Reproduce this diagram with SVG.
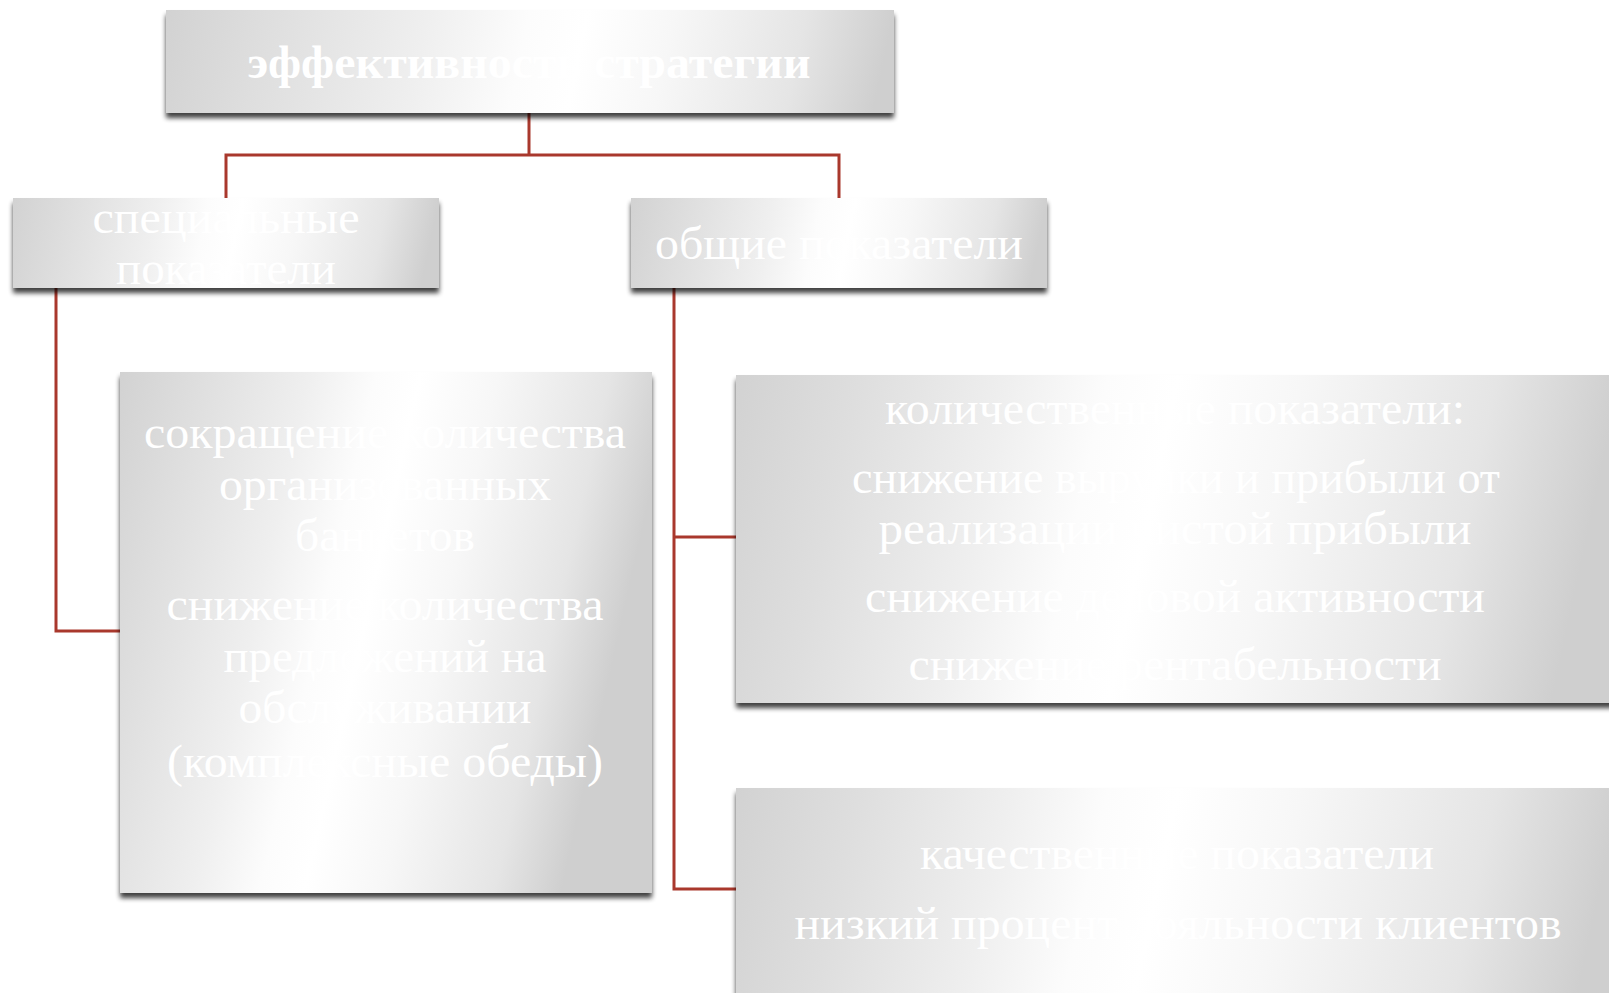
<svg xmlns="http://www.w3.org/2000/svg" width="1609" height="993" viewBox="0 0 1609 993">
  <defs>
    <filter id="sh" x="-5%" y="-10%" width="110%" height="130%">
      <feGaussianBlur in="SourceAlpha" stdDeviation="2.5"/>
      <feOffset dx="0" dy="5" result="b"/>
      <feComponentTransfer><feFuncA type="linear" slope="0.75"/></feComponentTransfer>
      <feMerge><feMergeNode/><feMergeNode in="SourceGraphic"/></feMerge>
    </filter>
    <linearGradient id="gTop" x1="0" y1="0" x2="1" y2="0.03">
      <stop offset="0" stop-color="#d2d2d2"/><stop offset="0.14" stop-color="#dedede"/><stop offset="0.36" stop-color="#efefef"/><stop offset="0.5" stop-color="#fcfcfc"/><stop offset="0.58" stop-color="#ffffff"/><stop offset="0.7" stop-color="#f7f7f7"/><stop offset="0.88" stop-color="#e5e5e5"/><stop offset="1" stop-color="#cfcfcf"/>
    </linearGradient>
    <linearGradient id="gMid" x1="0" y1="0" x2="1" y2="0.045">
      <stop offset="0" stop-color="#d2d2d2"/><stop offset="0.14" stop-color="#dedede"/><stop offset="0.34" stop-color="#efefef"/><stop offset="0.46" stop-color="#fcfcfc"/><stop offset="0.54" stop-color="#ffffff"/><stop offset="0.68" stop-color="#f7f7f7"/><stop offset="0.88" stop-color="#e5e5e5"/><stop offset="1" stop-color="#cfcfcf"/>
    </linearGradient>
    <linearGradient id="gTall" x1="0" y1="0" x2="1" y2="0.22">
      <stop offset="0" stop-color="#d2d2d2"/><stop offset="0.14" stop-color="#dedede"/><stop offset="0.34" stop-color="#efefef"/><stop offset="0.46" stop-color="#fcfcfc"/><stop offset="0.54" stop-color="#ffffff"/><stop offset="0.68" stop-color="#f7f7f7"/><stop offset="0.88" stop-color="#e5e5e5"/><stop offset="1" stop-color="#cfcfcf"/>
    </linearGradient>
    <linearGradient id="gWide" x1="0" y1="0" x2="1" y2="0.08">
      <stop offset="0" stop-color="#d2d2d2"/><stop offset="0.14" stop-color="#dedede"/><stop offset="0.31" stop-color="#efefef"/><stop offset="0.42" stop-color="#fcfcfc"/><stop offset="0.5" stop-color="#ffffff"/><stop offset="0.64" stop-color="#f7f7f7"/><stop offset="0.86" stop-color="#e5e5e5"/><stop offset="1" stop-color="#cfcfcf"/>
    </linearGradient>
  </defs>
  <style>
    .box { filter: url(#sh); }
    .t { font-family: "Liberation Serif", "Times New Roman", serif; font-size: 47px; fill: #ffffff; text-anchor: middle; }
    .b { font-weight: bold; }
    .c { fill: none; stroke: #a9382d; stroke-width: 3; }
  </style>
  <rect width="1609" height="993" fill="#ffffff"/>

  <g id="connectors">
    <polyline class="c" points="529,113 529,155"/>
    <polyline class="c" points="226,198 226,155 839,155 839,198"/>
    <polyline class="c" points="56,288 56,631 120,631"/>
    <polyline class="c" points="674,288 674,889 736,889"/>
    <polyline class="c" points="674,537 736,537"/>
  </g>

  <g id="node-top">
    <rect class="box" x="166" y="10" width="728" height="103" fill="url(#gTop)"/>
    <text class="t b" x="529" y="78" textLength="563" lengthAdjust="spacingAndGlyphs">эффективность стратегии</text>
  </g>

  <g id="node-special">
    <rect class="box" x="13" y="198" width="426" height="90" fill="url(#gMid)"/>
    <text class="t" x="226" y="233" textLength="267" lengthAdjust="spacingAndGlyphs">специальные</text>
    <text class="t" x="226" y="284">показатели</text>
  </g>

  <g id="node-general">
    <rect class="box" x="631" y="198" width="416" height="90" fill="url(#gMid)"/>
    <text class="t" x="839" y="259" textLength="368" lengthAdjust="spacingAndGlyphs">общие показатели</text>
  </g>

  <g id="node-special-detail">
    <rect class="box" x="120" y="372" width="532" height="521" fill="url(#gTall)"/>
    <text class="t" x="385" y="448" textLength="482" lengthAdjust="spacingAndGlyphs">сокращение количества</text>
    <text class="t" x="385" y="500" textLength="332" lengthAdjust="spacingAndGlyphs">организованных</text>
    <text class="t" x="385" y="551" textLength="180" lengthAdjust="spacingAndGlyphs">банкетов</text>
    <text class="t" x="385" y="620" textLength="437" lengthAdjust="spacingAndGlyphs">снижение количества</text>
    <text class="t" x="385" y="672" textLength="323" lengthAdjust="spacingAndGlyphs">предложений на</text>
    <text class="t" x="385" y="723" textLength="293" lengthAdjust="spacingAndGlyphs">обслуживании</text>
    <text class="t" x="385" y="777" textLength="436" lengthAdjust="spacingAndGlyphs">(комплексные обеды)</text>
  </g>

  <g id="node-quantitative">
    <rect class="box" x="736" y="375" width="880" height="328" fill="url(#gWide)"/>
    <text class="t" x="1175" y="424" textLength="580" lengthAdjust="spacingAndGlyphs">количественные показатели:</text>
    <text class="t" x="1176" y="493" textLength="648" lengthAdjust="spacingAndGlyphs">снижение выручки и прибыли от</text>
    <text class="t" x="1175" y="544" textLength="593" lengthAdjust="spacingAndGlyphs">реализации чистой прибыли</text>
    <text class="t" x="1175" y="612" textLength="620" lengthAdjust="spacingAndGlyphs">снижение деловой активности</text>
    <text class="t" x="1175" y="680" textLength="533" lengthAdjust="spacingAndGlyphs">снижение рентабельности</text>
  </g>

  <g id="node-qualitative">
    <rect class="box" x="736" y="788" width="880" height="328" fill="url(#gWide)"/>
    <text class="t" x="1177" y="869" textLength="514" lengthAdjust="spacingAndGlyphs">качественные показатели</text>
    <text class="t" x="1178" y="939" textLength="767" lengthAdjust="spacingAndGlyphs">низкий процент лояльности клиентов</text>
  </g>
</svg>
